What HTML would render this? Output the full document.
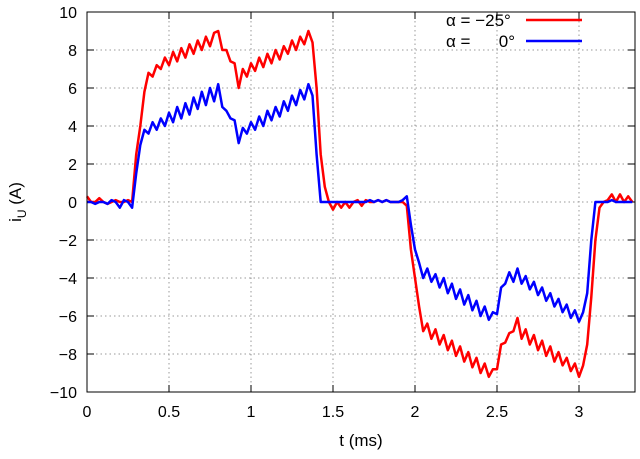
<!DOCTYPE html>
<html><head><meta charset="utf-8"><style>
body{margin:0;background:#fff}
svg{display:block;font-family:"Liberation Sans",sans-serif}
</style></head><body>
<svg id="chart" width="640" height="459" viewBox="0 0 640 459">
<g id="grid"></g>
<g id="ticks"></g>
<g id="series"></g>
<rect x="87" y="12" width="548" height="380" fill="none" stroke="#000" stroke-width="1"/>
<text x="361" y="446" font-size="17" text-anchor="middle">t (ms)</text>
<text transform="translate(21,202) rotate(-90)" font-size="17" text-anchor="middle">i<tspan font-size="12" dy="5">U</tspan><tspan dy="-5"> (A)</tspan></text>
<g>
<text x="446" y="26" font-size="17">α = −25°</text>
<line x1="526" y1="20" x2="582" y2="20" stroke="#f00" stroke-width="2.5"/>
<text x="446" y="47" font-size="17">α =</text>
<text x="515" y="47" font-size="17" text-anchor="end">0°</text>
<line x1="526" y1="41" x2="582" y2="41" stroke="#00f" stroke-width="2.5"/>
</g>
</svg>
<script>
const xTicks=[0,0.5,1,1.5,2,2.5,3];
const xTickLabels=["0","0.5","1","1.5","2","2.5","3"];
const yTicks=[-10,-8,-6,-4,-2,0,2,4,6,8,10];
const yTickLabels=["−10","−8","−6","−4","−2","0","2","4","6","8","10"];
const timeStep=0.025;
const redValues=[0.3,0,0,0.2,0,-0.1,0,0.1,0,0,0.1,0,2.5,4.0,5.8,6.8,6.6,7.2,7.0,7.6,7.2,7.9,7.4,8.1,7.6,8.3,7.8,8.5,8.0,8.7,8.2,8.9,9.0,8.0,8.0,7.4,7.3,6.0,7.0,6.6,7.3,6.9,7.6,7.1,7.8,7.3,8.0,7.5,8.2,7.8,8.5,8.0,8.7,8.3,9.0,8.4,6.0,2.5,0.8,0,-0.4,0,-0.3,0,-0.3,0,0.1,-0.2,0.1,0,0,0.1,0,0.1,0,0,0,0,-0.2,-2.5,-4.0,-5.5,-6.8,-6.4,-7.2,-6.7,-7.5,-7.0,-7.8,-7.3,-8.1,-7.6,-8.4,-7.9,-8.7,-8.2,-9.0,-8.5,-9.2,-8.8,-8.8,-7.5,-7.4,-6.9,-6.8,-6.1,-7.2,-6.7,-7.5,-7.0,-7.8,-7.3,-8.1,-7.6,-8.4,-7.9,-8.6,-8.2,-8.9,-8.5,-9.2,-8.6,-7.5,-5.0,-2.0,-0.3,0,0.1,0.4,0,0.4,0,0.3,0];
const blueValues=[0,0,-0.1,0,0,-0.1,0.1,0,-0.3,0.1,0,-0.3,1.5,3.0,3.8,3.6,4.2,3.8,4.4,4.0,4.7,4.2,5.0,4.4,5.2,4.6,5.5,4.9,5.8,5.1,6.0,5.3,6.2,5.0,4.8,4.4,4.3,3.1,3.9,3.6,4.2,3.8,4.5,4.0,4.8,4.3,5.0,4.5,5.3,4.8,5.6,5.1,5.9,5.4,6.2,5.6,2.5,0,0,0,0,0,0,0,0,0,0,0,0,0.1,0,0.1,0,0.1,0,0,0,0.1,0.3,-1.2,-2.5,-3.2,-4.0,-3.5,-4.2,-3.8,-4.5,-4.0,-4.8,-4.3,-5.1,-4.6,-5.4,-4.9,-5.7,-5.2,-6.0,-5.5,-6.2,-5.8,-5.9,-4.5,-4.3,-3.7,-4.2,-3.5,-4.3,-3.9,-4.6,-4.2,-4.9,-4.5,-5.2,-4.8,-5.5,-5.1,-5.8,-5.4,-6.1,-5.7,-6.3,-5.8,-4.8,-2.0,0,0,0,0,0.1,0,0,0,0,0];

const X0=87,X1=635,Y0=12,Y1=392,xMin=0,xMax=3.3415,yMin=-10,yMax=10;
const sx=v=>X0+(v-xMin)/(xMax-xMin)*(X1-X0);
const sy=v=>Y1-(v-yMin)/(yMax-yMin)*(Y1-Y0);
const NS="http://www.w3.org/2000/svg";
const grid=document.getElementById('grid'),ticks=document.getElementById('ticks'),series=document.getElementById('series');
function mk(tag,attrs,parent){const e=document.createElementNS(NS,tag);for(const k in attrs)e.setAttribute(k,attrs[k]);parent.appendChild(e);return e;}
xTicks.forEach((v,i)=>{const x=sx(v);
 if(i>0){const g=mk('line',{x1:x,y1:Y0,x2:x,y2:Y1,stroke:'#999','stroke-dasharray':'1.5,3','stroke-width':1},grid);
 
 }
 const t1=mk('line',{x1:x,y1:Y1,x2:x,y2:Y1-7,stroke:'#000'},ticks);
 
 
 const t2=mk('line',{x1:x,y1:Y0,x2:x,y2:Y0+7,stroke:'#000'},ticks);
 
 
 const l=mk('text',{x:x,y:417,'font-size':16,'text-anchor':'middle'},ticks);l.textContent=xTickLabels[i];
 
 
});
yTicks.forEach((v,i)=>{const y=sy(v);
 if(i>0&&i<yTicks.length-1){const g=mk('line',{x1:X0,y1:y,x2:X1,y2:y,stroke:'#999','stroke-dasharray':'1.5,3','stroke-width':1},grid);
 
 }
 const t1=mk('line',{x1:X0,y1:y,x2:X0+7,y2:y,stroke:'#000'},ticks);
 
 
 const t2=mk('line',{x1:X1,y1:y,x2:X1-7,y2:y,stroke:'#000'},ticks);
 
 
 const l=mk('text',{x:77,y:y+6,'font-size':16,'text-anchor':'end'},ticks);l.textContent=yTickLabels[i];
 
 
});
function drawLine(vals,color,name){
 const pts=vals.map((v,i)=>sx(i*timeStep).toFixed(1)+','+sy(v).toFixed(1)).join(' ');
 const p=mk('polyline',{points:pts,fill:'none',stroke:color,'stroke-width':2.5,'stroke-linejoin':'round'},series);
 
 
}
drawLine(redValues,'#f00','series-alpha-minus25');
drawLine(blueValues,'#00f','series-alpha-0');
</script>
</body></html>
